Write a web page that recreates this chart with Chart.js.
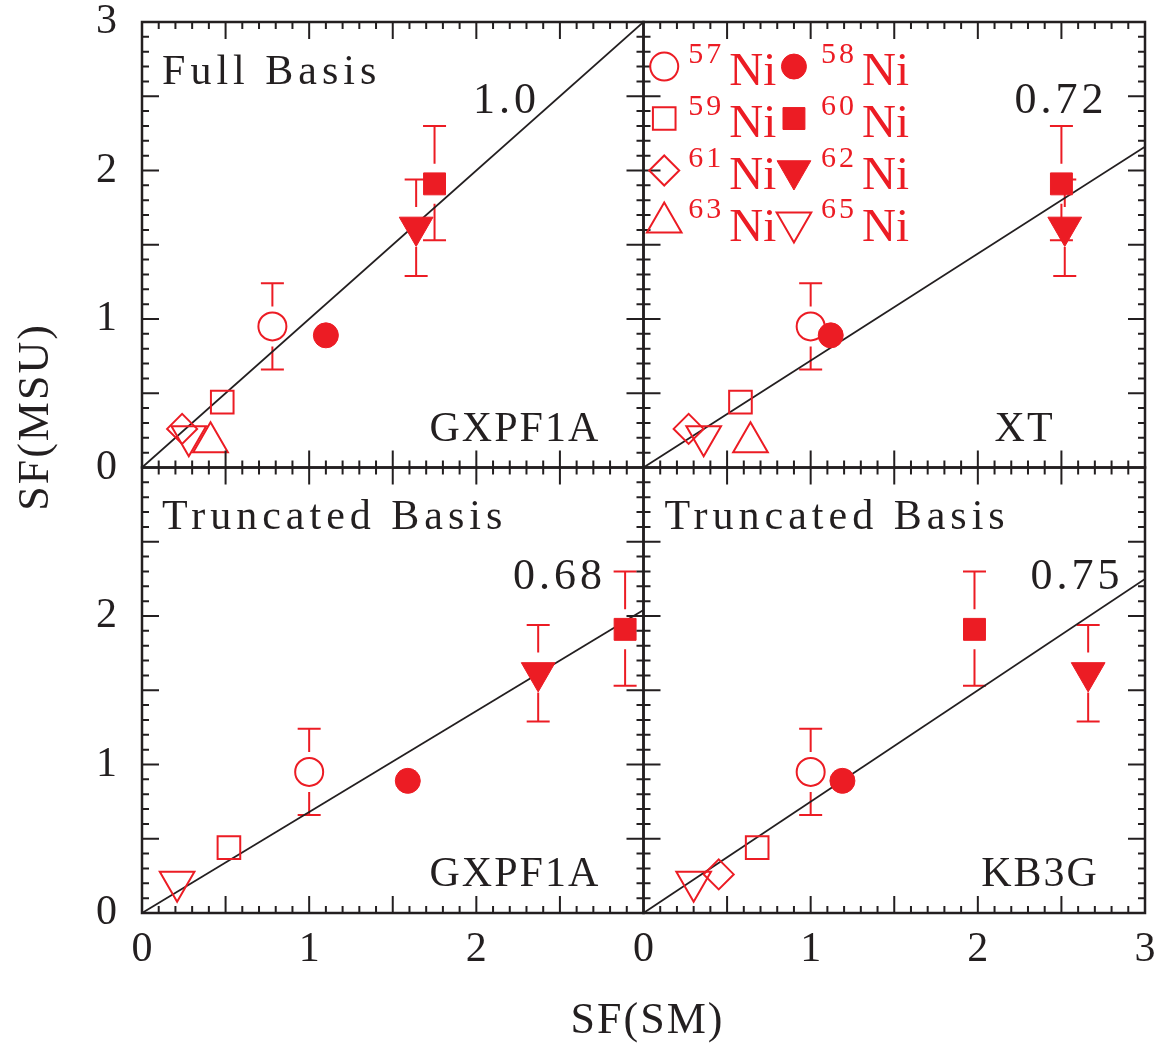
<!DOCTYPE html>
<html>
<head>
<meta charset="utf-8">
<title>SF(MSU) vs SF(SM)</title>
<script src="https://cdn.jsdelivr.net/npm/chart.js@4.4.0/dist/chart.umd.min.js"></script>
<style>
  html, body { margin: 0; padding: 0; background: #fff; }
</style>
</head>
<body>
<canvas id="sfchart" width="1167" height="1044"></canvas>
<script>
// Ni isotopes, spectroscopic factors from the MSU analysis (same in every panel)
const isotopes = ['57', '58', '59', '60', '61', '62', '63', '65'];
const sfMSU   = [0.95, 0.89, 0.44, 1.91, 0.26, 1.62, 0.17, 0.21];
const errLow  = [0.66, null, null, 1.53, null, 1.29, null, null];
const errHigh = [1.24, null, null, 2.30, null, 1.94, null, null];

// shell model SF, one array per panel (null = not shown)
const smFullGXPF1A  = [0.78, 1.10, 0.48, 1.75, 0.24, 1.64, 0.41, 0.28];
const smXT          = [1.00, 1.12, 0.58, 2.50, 0.27, 2.52, 0.64, 0.36];
const smTruncGXPF1A = [1.00, 1.59, 0.52, 2.89, null, 2.37, null, 0.21];
const smKB3G        = [1.00, 1.19, 0.68, 1.98, 0.45, 2.66, null, 0.30];

// fitted lines: label and value reached at SF(SM) = 3
const fitLabels = ['1.0', '0.72', '0.68', '0.75'];
const fitEnd    = [3.0, 2.16, 2.04, 2.25];

const panelTitles = ['Full Basis', '', 'Truncated Basis', 'Truncated Basis'];
const panelModels = ['GXPF1A', 'XT', 'GXPF1A', 'KB3G'];
const axisTicks = [0, 1, 2, 3];

const RED = '#ec1c24';
const INK = '#231f20';
const FONT = "'Liberation Serif', 'DejaVu Serif', serif";

// marker look per isotope
const markerStyle = [
  { style: 'circle',   r: 14,   fill: false, rot: 0 },
  { style: 'circle',   r: 12.5, fill: true,  rot: 0 },
  { style: 'rect',     r: 16,   fill: false, rot: 0 },
  { style: 'rect',     r: 15.5, fill: true,  rot: 0 },
  { style: 'rectRot',  r: 15,   fill: false, rot: 0 },
  { style: 'triangle', r: 19.5, fill: true,  rot: 180 },
  { style: 'triangle', r: 20,   fill: false, rot: 0 },
  { style: 'triangle', r: 20,   fill: false, rot: 180 }
];

const panels = [
  { x: 'xL', y: 'yT', sm: smFullGXPF1A,  titleX: 0.12, modelX: 1.72, fitX: 1.98, fitY: 2.385 },
  { x: 'xR', y: 'yT', sm: smXT,          titleX: 0.12, modelX: 2.10, fitX: 2.22, fitY: 2.385 },
  { x: 'xL', y: 'yB', sm: smTruncGXPF1A, titleX: 0.12, modelX: 1.72, fitX: 2.22, fitY: 2.185 },
  { x: 'xR', y: 'yB', sm: smKB3G,        titleX: 0.125, modelX: 2.02, fitX: 2.315, fitY: 2.185 }
];

function mk(c, key, fallback) {
  return c.raw ? markerStyle[c.raw.k][key] : fallback;
}

var datasets = [];
panels.forEach(function (p, k) {
  datasets.push({
    xAxisID: p.x,
    yAxisID: p.y,
    data: isotopes.map(function (iso, i) {
      return { x: p.sm[i], y: sfMSU[i], k: i };
    }).filter(function (d) { return d.x !== null; }),
    pointStyle: function (c) { return mk(c, 'style', 'circle'); },
    pointRadius: function (c) { return mk(c, 'r', 0); },
    pointHoverRadius: function (c) { return mk(c, 'r', 0); },
    pointRotation: function (c) { return mk(c, 'rot', 0); },
    pointBackgroundColor: function (c) { return mk(c, 'fill', false) ? RED : 'rgba(0,0,0,0)'; },
    pointBorderColor: RED,
    pointBorderWidth: function (c) { return mk(c, 'fill', false) ? 1 : 2; },
    order: 0
  });
  datasets.push({
    xAxisID: p.x,
    yAxisID: p.y,
    showLine: true,
    data: [{ x: 0, y: 0 }, { x: 3, y: fitEnd[k] }],
    borderColor: INK,
    borderWidth: 1.8,
    pointRadius: 0,
    order: 1
  });
});

function scaleOpts(position, stack, hideLast, size) {
  return {
    type: 'linear',
    position: position,
    stack: stack,
    stackWeight: 1,
    min: 0,
    max: 3,
    afterBuildTicks: function (s) {
      s.ticks = axisTicks.map(function (v) { return { value: v }; });
    },
    ticks: {
      autoSkip: false,
      maxRotation: 0,
      color: INK,
      padding: position === 'left' ? 25 : 12,
      font: { family: FONT, size: 42, lineHeight: 1.2 },
      callback: function (v) { return hideLast && v === 3 ? '' : String(v); }
    },
    grid: { display: false, drawTicks: false },
    border: { display: false },
    afterFit: function (s) {
      if (position === 'left') s.width = size; else s.height = size;
      s.paddingTop = 0; s.paddingBottom = 0; s.paddingLeft = 0; s.paddingRight = 0;
    }
  };
}

function drawText(ctx, str, x, y, size, color, spacing, align) {
  ctx.font = size + 'px ' + FONT;
  ctx.fillStyle = color;
  ctx.textAlign = align || 'left';
  ctx.textBaseline = 'alphabetic';
  ctx.letterSpacing = (spacing || 0) + 'px';
  ctx.fillText(str, x, y);
}

const panelDecor = {
  id: 'panelDecor',
  beforeDatasetsDraw: function (chart) {
    // error bars, gap left around the marker
    var ctx = chart.ctx;
    ctx.save();
    ctx.strokeStyle = RED;
    ctx.lineWidth = 2;
    panels.forEach(function (p) {
      var xs = chart.scales[p.x], ys = chart.scales[p.y];
      p.sm.forEach(function (sx, i) {
        if (sx === null || errLow[i] === null) return;
        var px = xs.getPixelForValue(sx);
        var py = ys.getPixelForValue(sfMSU[i]);
        var top = ys.getPixelForValue(errHigh[i]);
        var bot = ys.getPixelForValue(errLow[i]);
        ctx.beginPath();
        ctx.moveTo(px, top); ctx.lineTo(px, py - 20);
        ctx.moveTo(px, py + 20); ctx.lineTo(px, bot);
        ctx.moveTo(px - 11.5, top); ctx.lineTo(px + 11.5, top);
        ctx.moveTo(px - 11.5, bot); ctx.lineTo(px + 11.5, bot);
        ctx.stroke();
      });
    });
    ctx.restore();
  },
  afterDatasetsDraw: function (chart) {
    // frames with inward ticks on all four sides
    var ctx = chart.ctx;
    ctx.save();
    ctx.strokeStyle = INK;
    panels.forEach(function (p) {
      var xs = chart.scales[p.x], ys = chart.scales[p.y];
      ctx.lineWidth = 2;
      ctx.beginPath();
      for (var i = 1; i < 30; i++) {
        var len = i % 5 === 0 ? 17 : 7;
        var px = xs.getPixelForValue(i / 10);
        var py = ys.getPixelForValue(i / 10);
        ctx.moveTo(px, ys.bottom); ctx.lineTo(px, ys.bottom - len);
        ctx.moveTo(px, ys.top); ctx.lineTo(px, ys.top + len);
        ctx.moveTo(xs.left, py); ctx.lineTo(xs.left + len, py);
        ctx.moveTo(xs.right, py); ctx.lineTo(xs.right - len, py);
      }
      ctx.stroke();
      ctx.lineWidth = 2.5;
      ctx.strokeRect(xs.left, ys.top, xs.right - xs.left, ys.bottom - ys.top);
    });
    ctx.restore();
  },
  afterDraw: function (chart) {
    var ctx = chart.ctx;
    ctx.save();
    panels.forEach(function (p, k) {
      var xs = chart.scales[p.x], ys = chart.scales[p.y];
      if (panelTitles[k]) {
        drawText(ctx, panelTitles[k], xs.getPixelForValue(p.titleX), ys.getPixelForValue(2.585), 42, INK, 5);
      }
      drawText(ctx, panelModels[k], xs.getPixelForValue(p.modelX), ys.getPixelForValue(0.18), 42, INK, 2);
      drawText(ctx, fitLabels[k], xs.getPixelForValue(p.fitX), ys.getPixelForValue(p.fitY), 44, INK, 4);
    });

    // legend inside the upper right panel
    var lx = chart.scales.xR, ly = chart.scales.yT;
    isotopes.forEach(function (iso, i) {
      var col = i % 2, row = Math.floor(i / 2);
      var cx = lx.getPixelForValue(col === 0 ? 0.124 : 0.90);
      var cy = ly.getPixelForValue(2.70 - 0.35 * row);
      var m = markerStyle[i];
      ctx.save();
      ctx.letterSpacing = '0px';
      ctx.strokeStyle = RED;
      ctx.fillStyle = m.fill ? RED : 'rgba(0,0,0,0)';
      ctx.lineWidth = m.fill ? 1 : 2;
      Chart.helpers.drawPoint(ctx, { pointStyle: m.style, radius: m.r, rotation: m.rot, borderWidth: ctx.lineWidth }, cx, cy);
      ctx.restore();
      var off = col === 0 ? 0 : 3;
      drawText(ctx, iso, cx + 24 + off, cy - 4, 30, RED, 3);
      drawText(ctx, 'Ni', cx + 65 + off, cy + 18.5, 47, RED, 0);
    });

    // axis titles
    var ca = chart.chartArea;
    drawText(ctx, 'SF(SM)', (ca.left + ca.right) / 2 + 4, ca.bottom + 120, 44, INK, 2, 'center');
    ctx.save();
    ctx.translate(ca.left - 94, 417);
    ctx.rotate(-Math.PI / 2);
    drawText(ctx, 'SF(MSU)', 0, 0, 44, INK, 2, 'center');
    ctx.restore();
    ctx.restore();
  }
};

new Chart(document.getElementById('sfchart'), {
  type: 'scatter',
  data: { datasets: datasets },
  options: {
    responsive: false,
    animation: false,
    events: [],
    layout: { padding: { left: 0, top: 20, right: 15, bottom: 0 } },
    plugins: { legend: { display: false }, tooltip: { enabled: false } },
    scales: {
      // the layout stacks these bottom-up, so the lower panel comes first
      yB: scaleOpts('left', 'y', true, 142),
      yT: scaleOpts('left', 'y', false, 142),
      xL: scaleOpts('bottom', 'x', true, 131),
      xR: scaleOpts('bottom', 'x', false, 131)
    }
  },
  plugins: [panelDecor]
});
</script>
</body>
</html>
